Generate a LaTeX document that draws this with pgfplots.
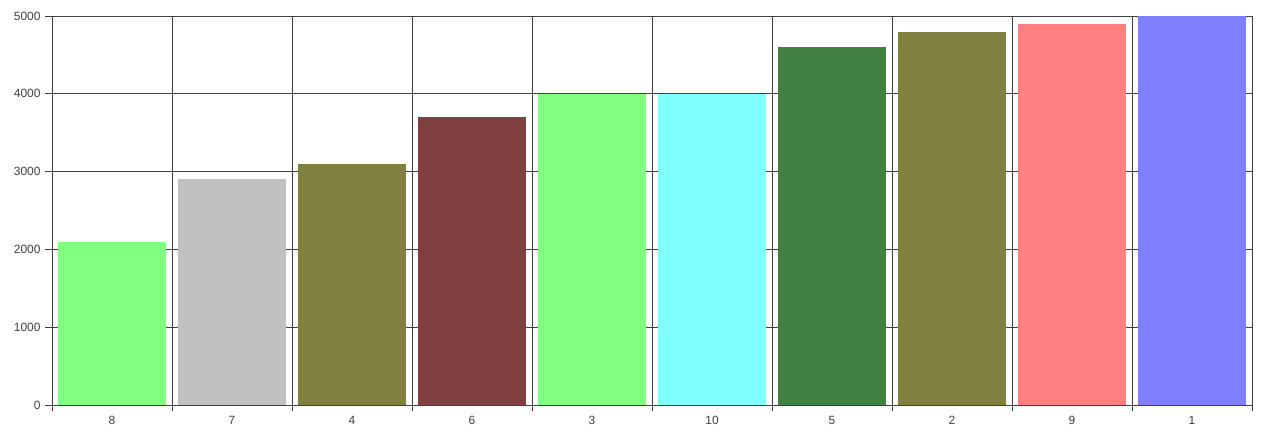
\documentclass[border=0pt]{standalone}
\usepackage{pgfplots}
\pgfplotsset{compat=1.18}
\usepackage{fontspec}
\setmainfont{Liberation Sans}
\definecolor{gridc}{HTML}{404040}
\definecolor{c8}{HTML}{80FF80}
\definecolor{c7}{HTML}{C0C0C0}
\definecolor{c4}{HTML}{808040}
\definecolor{c6}{HTML}{804040}
\definecolor{c10}{HTML}{80FFFF}
\definecolor{c5}{HTML}{408040}
\definecolor{c9}{HTML}{FF8080}
\definecolor{c1}{HTML}{8080FF}
\begin{document}
\begin{tikzpicture}[x=1bp,y=1bp]
\useasboundingbox (-52,-35) rectangle (1212,405);
\begin{axis}[
    at={(0,0)}, anchor=south west,
    scale only axis,
    width=1200bp, height=389bp,
    xmin=-0.5, xmax=9.5,
    ymin=0, ymax=5000,
    xtick={0,...,9},
    xticklabels={8,7,4,6,3,10,5,2,9,1},
    major x tick style={draw=none},
    minor xtick={-0.5,0.5,...,9.5},
    xminorgrids,
    ytick={0,1000,...,5000},
    ymajorgrids,
    xtick pos=bottom, ytick pos=left,
    tick align=outside,
    major tick length=7bp,
    minor tick length=6bp,
    axis line style={gridc, line width=0.8pt},
    grid style={gridc, line width=0.8pt},
    minor grid style={gridc, line width=0.8pt},
    every tick/.style={gridc, line width=0.8pt},
    tick label style={font=\fontsize{12}{14}\selectfont, text=gridc},
    /pgf/number format/assume math mode=true,
    /pgf/number format/1000 sep={},
    xticklabel style={yshift=-1bp},
    yticklabel style={xshift=-1bp},
    ybar, bar width=108bp, bar shift=0pt,
]
\addplot[fill=c8, draw=none] coordinates {(0,2100)};
\addplot[fill=c7, draw=none] coordinates {(1,2900)};
\addplot[fill=c4, draw=none] coordinates {(2,3100)};
\addplot[fill=c6, draw=none] coordinates {(3,3700)};
\addplot[fill=c8, draw=none] coordinates {(4,4000)};
\addplot[fill=c10, draw=none] coordinates {(5,4000)};
\addplot[fill=c5, draw=none] coordinates {(6,4600)};
\addplot[fill=c4, draw=none] coordinates {(7,4800)};
\addplot[fill=c9, draw=none] coordinates {(8,4900)};
\addplot[fill=c1, draw=none] coordinates {(9,5000)};
\end{axis}
\end{tikzpicture}
\end{document}
